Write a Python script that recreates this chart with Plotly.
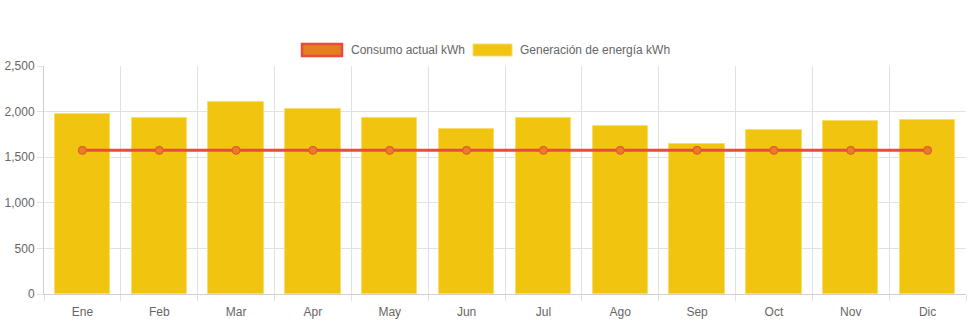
import plotly.graph_objects as go

months = ["Ene", "Feb", "Mar", "Apr", "May", "Jun", "Jul", "Ago", "Sep", "Oct", "Nov", "Dic"]
generation_kwh = [1975, 1935, 2110, 2030, 1930, 1805, 1930, 1845, 1640, 1795, 1895, 1905]
consumption_kwh = [1575] * 12

W, H = 971, 323
L, R, T, B = 44, 5, 66, 29
PW, PH = W - L - R, H - T - B

RED = "#e74c3c"
ORANGE = "#e67e22"
YELLOW = "#f1c40f"
GRID = "#e1e1e1"
FONT = "Liberation Sans, Arial, sans-serif"

fig = go.Figure()

fig.add_trace(go.Bar(
    x=months, y=generation_kwh, name="Generación de energía kWh",
    marker=dict(color=YELLOW, line=dict(color="#f7dc6f", width=1)),
    width=0.72, showlegend=False,
))
fig.add_trace(go.Scatter(
    x=months, y=consumption_kwh, name="Consumo actual kWh", mode="lines+markers",
    line=dict(color=RED, width=3),
    marker=dict(color=ORANGE, size=8, line=dict(color=RED, width=1)),
    showlegend=False,
))


def px_x(p):
    return (p - L) / PW


def px_y(p):
    return (H - B - p) / PH


# legend drawn as boxes and labels
legend_items = [
    (302, 342, 349, ORANGE, RED, 2.5, "Consumo actual kWh"),
    (473, 512, 518, YELLOW, "#f7dc6f", 1, "Generación de energía kWh"),
]
shapes, annotations = [], []
for x0, x1, tx, fill, border, bw, label in legend_items:
    shapes.append(dict(type="rect", xref="paper", yref="paper",
                       x0=px_x(x0), x1=px_x(x1), y0=px_y(56), y1=px_y(44),
                       fillcolor=fill, line=dict(color=border, width=bw)))
    annotations.append(dict(xref="paper", yref="paper", x=px_x(tx), y=px_y(50),
                            xanchor="left", yanchor="middle", showarrow=False,
                            text=label, font=dict(family=FONT, size=12, color="#666")))

fig.update_layout(
    width=W, height=H,
    margin=dict(l=L, r=R, t=T, b=B),
    paper_bgcolor="white", plot_bgcolor="white",
    font=dict(family=FONT, size=12, color="#666"),
    shapes=shapes, annotations=annotations,
    bargap=0,
    xaxis=dict(
        type="category", tickson="boundaries", showgrid=True, gridcolor=GRID, gridwidth=1,
        ticks="outside", ticklen=6, tickcolor=GRID, showline=True, linecolor="#cfcfcf",
        linewidth=1, tickfont=dict(family=FONT, size=12, color="#666"), zeroline=False,
        range=[-0.5, 11.5], ticklabelstandoff=7,
    ),
    yaxis=dict(
        range=[0, 2500], tickvals=[0, 500, 1000, 1500, 2000, 2500], tickformat=",",
        showgrid=True, gridcolor=GRID, gridwidth=1, ticks="outside", ticklen=6,
        tickcolor=GRID, showline=True, linecolor="#cfcfcf", linewidth=1,
        zeroline=False, tickfont=dict(family=FONT, size=12, color="#666"),
    ),
)

fig.write_html("out.html")
